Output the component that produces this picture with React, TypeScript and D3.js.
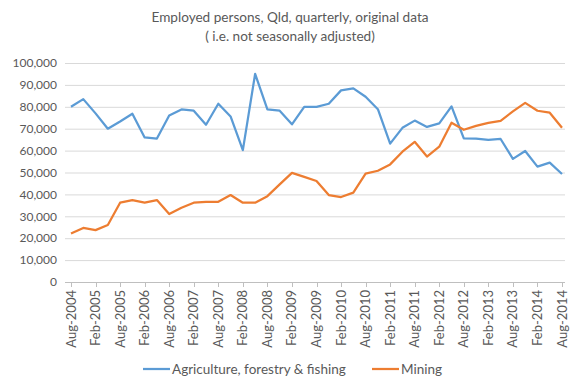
import { useEffect, useRef } from "react";
import * as d3 from "d3";

// quarterly, Aug-2004 .. Aug-2014
const quarters = d3.range(41).map((i) => {
  const m = i % 4; // 0 Aug, 1 Nov, 2 Feb, 3 May
  const year = 2004 + Math.floor((i + 2) / 4);
  const mon = ["Aug", "Nov", "Feb", "May"][m];
  return `${mon}-${year}`;
});

const agriculture = [
  80000, 83500, 77000, 70000, 73300, 76800, 66000, 65500, 76000, 78800,
  78200, 71800, 81400, 75600, 60200, 95000, 78800, 78200, 72000, 80000,
  80000, 81400, 87500, 88400, 84600, 78900, 63200, 70400, 73700, 70800,
  72400, 80200, 65600, 65500, 64900, 65300, 56200, 59800, 52700, 54500,
  49300,
];

const mining = [
  22100, 24700, 23700, 26000, 36200, 37400, 36200, 37400, 31000, 33900,
  36200, 36600, 36600, 39700, 36200, 36200, 39200, 44600, 49800, 48000,
  46100, 39700, 38800, 40800, 49500, 50800, 53700, 59500, 64000, 57300,
  61800, 72700, 69500, 71300, 72700, 73600, 77900, 81800, 78200, 77300,
  70400,
];

const yTicks = d3.range(0, 100001, 10000);
const seriesNames = ["Agriculture, forestry & fishing", "Mining"];
const seriesColors = ["#5b9bd5", "#ed7d31"];

export default function App() {
  const svgRef = useRef<SVGSVGElement>(null);

  useEffect(() => {
    const el = svgRef.current;
    if (!el) return;
    const w = 578;
    const h = 391;
    const font = "Lato, 'Open Sans', sans-serif";

    d3.select(el).selectAll("*").remove();
    const svg = d3.select(el).attr("width", w).attr("height", h);

    svg.append("rect").attr("width", w).attr("height", h).attr("fill", "#fff");

    const x = d3.scalePoint<string>().domain(quarters).range([71, 562]);
    const y = d3.scaleLinear().domain([0, 100000]).range([282, 63]);

    // title
    const title = svg
      .append("text")
      .attr("text-anchor", "middle")
      .attr("font-family", font)
      .attr("font-size", 13.6)
      .attr("fill", "#595959");
    title.append("tspan").attr("x", 290).attr("y", 22).text("Employed persons, Qld, quarterly, original data");
    title.append("tspan").attr("x", 290).attr("y", 41).text("( i.e. not seasonally adjusted)");

    // gridlines
    svg
      .append("g")
      .selectAll("line")
      .data(yTicks.filter((d) => d > 0))
      .join("line")
      .attr("x1", 65)
      .attr("x2", 565)
      .attr("y1", (d) => y(d) + 0.5)
      .attr("y2", (d) => y(d) + 0.5)
      .attr("stroke", "#d9d9d9")
      .attr("stroke-width", 1);

    // y labels
    svg
      .append("g")
      .selectAll("text")
      .data(yTicks)
      .join("text")
      .attr("x", 57)
      .attr("y", (d) => y(d))
      .attr("dy", "0.35em")
      .attr("text-anchor", "end")
      .attr("font-family", font)
      .attr("font-size", 12)
      .attr("fill", "#595959")
      .text((d) => d3.format(",")(d));

    // x axis
    svg
      .append("line")
      .attr("x1", 65)
      .attr("x2", 565)
      .attr("y1", y(0) + 0.5)
      .attr("y2", y(0) + 0.5)
      .attr("stroke", "#bfbfbf");

    const labelled = quarters.filter((_, i) => i % 2 === 0);

    svg
      .append("g")
      .selectAll("line")
      .data(labelled)
      .join("line")
      .attr("x1", (d) => Math.round(x(d)!) + 0.5)
      .attr("x2", (d) => Math.round(x(d)!) + 0.5)
      .attr("y1", y(0))
      .attr("y2", y(0) + 5)
      .attr("stroke", "#bfbfbf");

    svg
      .append("g")
      .selectAll("text")
      .data(labelled)
      .join("text")
      .attr("transform", (d) => `translate(${x(d)! + 4.5},${y(0) + 8}) rotate(-90)`)
      .attr("text-anchor", "end")
      .attr("font-family", font)
      .attr("font-size", 13)
      .attr("fill", "#595959")
      .text((d) => d);

    // lines
    const line = d3
      .line<number>()
      .x((_, i) => x(quarters[i])!)
      .y((d) => y(d));

    [agriculture, mining].forEach((s, i) => {
      svg
        .append("path")
        .datum(s)
        .attr("d", line)
        .attr("fill", "none")
        .attr("stroke", seriesColors[i])
        .attr("stroke-width", 2.25)
        .attr("stroke-linejoin", "round");
    });

    // legend
    const legendX = [143, 372];
    seriesNames.forEach((name, i) => {
      const g = svg.append("g").attr("transform", `translate(${legendX[i]},369)`);
      g.append("line")
        .attr("x1", 0)
        .attr("x2", 27)
        .attr("stroke", seriesColors[i])
        .attr("stroke-width", 2.25);
      g.append("text")
        .attr("x", 29)
        .attr("dy", "0.35em")
        .attr("font-family", font)
        .attr("font-size", 13.5)
        .attr("fill", "#595959")
        .text(name);
    });
  }, []);

  return <svg ref={svgRef} style={{ display: "block", position: "absolute", left: 0, top: 0 }} />;
}
